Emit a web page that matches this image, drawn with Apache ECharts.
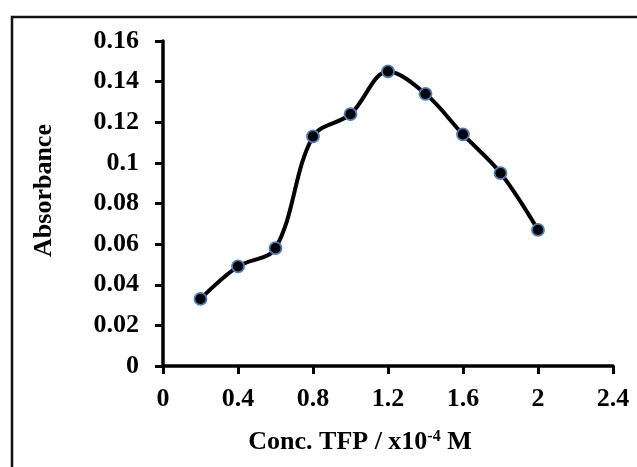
<!DOCTYPE html>
<html>
<head>
<meta charset="utf-8">
<script src="https://cdn.jsdelivr.net/npm/echarts@6/dist/echarts.min.js"></script>
<style>html,body{margin:0;padding:0;background:#fff;}#c{width:637px;height:467px;}</style>
</head>
<body>
<div id="c"></div>
<script>
var concentrations = [0.2, 0.4, 0.6, 0.8, 1.0, 1.2, 1.4, 1.6, 1.8, 2.0];
var absorbance = [0.033, 0.049, 0.058, 0.113, 0.124, 0.145, 0.134, 0.114, 0.095, 0.067];
var xTitle = 'Conc. TFP / x10{sup|-4} M';
var yTitle = 'Absorbance';

var font = '"Liberation Serif", "Times New Roman", serif';
var chart = echarts.init(document.getElementById('c'), null, {renderer: 'canvas'});
var points = concentrations.map(function (x, i) { return [x, absorbance[i]]; });

chart.setOption({
  animation: false,
  backgroundColor: '#fff',
  graphic: [{
    type: 'rect',
    shape: {x: 12, y: 17, width: 700, height: 600},
    style: {fill: 'none', stroke: '#111', lineWidth: 2.5},
    z: -1
  }],
  grid: {left: 163, right: 24, top: 41, bottom: 101},
  xAxis: {
    type: 'value', min: 0, max: 2.4, interval: 0.4,
    name: xTitle, nameLocation: 'middle', nameGap: 63,
    nameTextStyle: {
      fontFamily: font, fontWeight: 'bold', fontSize: 26, color: '#000',
      padding: [0, 56, 0, 0],
      rich: {sup: {fontFamily: font, fontWeight: 'bold', fontSize: 16, color: '#000', verticalAlign: 'top', padding: [0, 0, 8, 0]}}
    },
    axisLine: {show: true, onZero: false, lineStyle: {color: '#000', width: 3.5}},
    axisTick: {show: true, inside: false, length: 8, lineStyle: {color: '#000', width: 3}},
    splitLine: {show: false},
    axisLabel: {fontFamily: font, fontWeight: 'bold', fontSize: 26, color: '#000', margin: 20}
  },
  yAxis: {
    type: 'value', min: 0, max: 0.16, interval: 0.02,
    name: yTitle, nameLocation: 'middle', nameGap: 106, nameRotate: 90,
    nameTextStyle: {fontFamily: font, fontWeight: 'bold', fontSize: 26, color: '#000', padding: [0, 0, 0, 26]},
    axisLine: {show: true, onZero: false, lineStyle: {color: '#000', width: 3.5}},
    axisTick: {show: true, inside: false, length: 8, lineStyle: {color: '#000', width: 3}},
    splitLine: {show: false},
    axisLabel: {fontFamily: font, fontWeight: 'bold', fontSize: 26, color: '#000', margin: 24}
  },
  series: [{
    type: 'line',
    data: points,
    smooth: 0.35,
    symbol: 'circle',
    symbolSize: 12,
    lineStyle: {color: '#000', width: 4},
    itemStyle: {color: '#000', borderColor: '#4a7ebb', borderWidth: 1.8}
  }]
});
</script>
</body>
</html>
